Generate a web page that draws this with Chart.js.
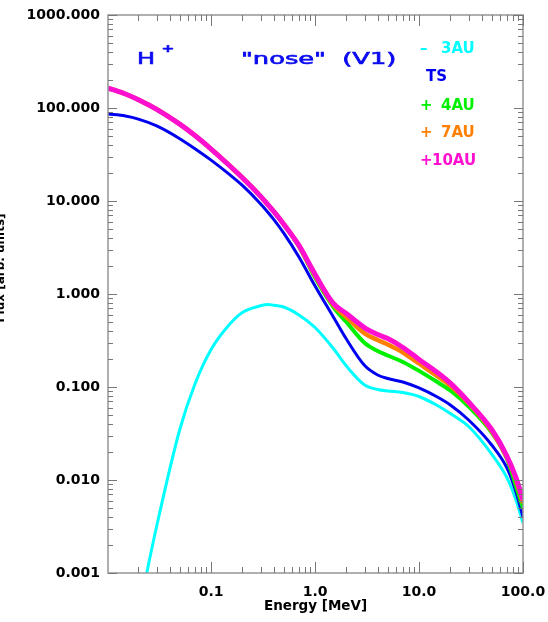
<!DOCTYPE html>
<html>
<head>
<meta charset="utf-8">
<script src="https://cdn.jsdelivr.net/npm/chart.js@4.4.1/dist/chart.umd.min.js"></script>
<style>
  html, body { margin: 0; padding: 0; background: #fff; }
  #wrap { width: 548px; height: 622px; position: relative; }
</style>
</head>
<body>
<div id="wrap"><canvas id="chart"></canvas></div>
<script>
// energies [MeV] shared by all curves
const energy = [0.0102, 0.015, 0.02, 0.03, 0.05, 0.07, 0.1, 0.15, 0.2, 0.3, 0.35, 0.4, 0.5, 0.7,
  1.0, 1.5, 2, 3, 4, 5, 7, 10, 15, 20, 30, 50, 70, 85, 100];

// TS - 3AU (cyan)
const tsMinus3 = [null, null, 0.00037, 0.0032, 0.0349, 0.1077, 0.253, 0.470, 0.633, 0.747, 0.769, 0.758, 0.725, 0.595,
  0.436, 0.259, 0.168, 0.105, 0.094, 0.0906, 0.0873, 0.079, 0.0633, 0.0519, 0.0376, 0.019, 0.0106, 0.00625, 0.00345];
// TS (blue)
const ts = [86.2, 82.0, 76.0, 64.2, 46.8, 36.5, 27.5, 19.3, 14.7, 9.30, 7.62, 6.34, 4.51, 2.50,
  1.22, 0.566, 0.328, 0.170, 0.1346, 0.1234, 0.1132, 0.0976, 0.078, 0.064, 0.0442, 0.0238, 0.0135, 0.00762, 0.0040];
// TS + 4AU (green)
const tsPlus4 = [164, 141.5, 122.8, 96.8, 67.1, 50.6, 36.2, 24.1, 17.8, 11.2, 9.19, 7.73, 5.60, 3.24,
  1.50, 0.725, 0.50, 0.297, 0.244, 0.218, 0.186, 0.149, 0.113, 0.0917, 0.0617, 0.0324, 0.0169, 0.00883, 0.0050];
// TS + 7AU (orange)
const tsPlus7 = [164, 141.5, 122.8, 96.8, 67.1, 50.6, 36.2, 24.1, 17.8, 11.2, 9.19, 7.73, 5.64, 3.30,
  1.58, 0.762, 0.566, 0.376, 0.320, 0.286, 0.235, 0.179, 0.131, 0.1038, 0.0673, 0.0336, 0.0175, 0.0103, 0.00566];
// TS + 10AU (magenta)
const tsPlus10 = [164, 141.5, 122.8, 96.8, 67.1, 50.6, 36.2, 24.1, 17.8, 11.2, 9.19, 7.73, 5.64, 3.33,
  1.63, 0.792, 0.617, 0.433, 0.367, 0.332, 0.266, 0.198, 0.143, 0.110, 0.069, 0.0349, 0.0181, 0.0108, 0.0061];

const legendMarks = ['\u2013', '', '+', '+', '+'];
const legendLabels = ['3AU', 'TS', '4AU', '7AU', '10AU'];
const xTickLabels = ['0.1', '1.0', '10.0', '100.0'];
const yTickLabels = ['0.001', '0.010', '0.100', '1.000', '10.000', '100.000', '1000.000'];

const C_CYAN = '#00ffff', C_BLUE = '#0000f0', C_GREEN = '#00f000', C_ORANGE = '#ff8000', C_MAG = '#ff10d0';
const legendColors = [C_CYAN, C_BLUE, C_GREEN, C_ORANGE, C_MAG];

const isDecade = v => Math.abs(Math.log10(v) - Math.round(Math.log10(v))) < 1e-6;

function mkSet(vals, color, width){
  return {
    data: vals.map((v, i) => ({ x: energy[i], y: v })),
    borderColor: color, borderWidth: width, pointRadius: 0,
    fill: false, cubicInterpolationMode: 'monotone', spanGaps: true, clip: 0
  };
}

// ticks drawn inside the frame, IDL style
const framePlugin = {
  id: 'frame',
  afterDatasetsDraw(chart){
    const ctx = chart.ctx;
    const { left, right, top, bottom } = chart.chartArea;
    const xs = chart.scales.x, ys = chart.scales.y;
    ctx.save();
    ctx.strokeStyle = '#959595';
    ctx.lineWidth = 1.5;
    ctx.strokeRect(left, top, right - left, bottom - top);
    ctx.lineWidth = 1;
    ctx.strokeStyle = '#777';
    ctx.beginPath();
    for(let e = -3; e <= 3; e++){
      for(let m = 1; m <= 9; m++){
        const v = m * Math.pow(10, e);
        if(v < ys.min * 0.999 || v > ys.max * 1.001) continue;
        const y = Math.round(ys.getPixelForValue(v)) + 0.5;
        const len = m === 1 ? 9 : 5;
        ctx.moveTo(left, y); ctx.lineTo(left + len, y);
        ctx.moveTo(right, y); ctx.lineTo(right - len, y);
      }
    }
    for(let e = -2; e <= 2; e++){
      for(let m = 1; m <= 9; m++){
        const v = m * Math.pow(10, e);
        if(v < xs.min || v > xs.max * 1.001) continue;
        const x = Math.round(xs.getPixelForValue(v)) + 0.5;
        const len = m === 1 ? 11 : 6;
        ctx.moveTo(x, bottom); ctx.lineTo(x, bottom - len);
        ctx.moveTo(x, top); ctx.lineTo(x, top + len);
      }
    }
    ctx.stroke();
    ctx.restore();
  }
};

function wideText(ctx, txt, x, y, sx, font){
  ctx.save();
  ctx.translate(x, y);
  ctx.scale(sx, 1);
  ctx.font = font;
  ctx.fillText(txt, 0, 0);
  ctx.strokeText(txt, 0, 0);
  ctx.restore();
}

// titles, legend and the clipped y axis label
const textPlugin = {
  id: 'texts',
  afterDraw(chart){
    const ctx = chart.ctx;
    ctx.save();
    ctx.textBaseline = 'alphabetic';
    ctx.textAlign = 'left';
    ctx.fillStyle = '#0a0af0';
    ctx.strokeStyle = '#0a0af0';
    ctx.lineWidth = 0.6;

    wideText(ctx, 'H', 137, 64, 1.55, '15.5px "DejaVu Sans"');
    ctx.textAlign = 'center';
    wideText(ctx, '+', 168, 52, 1.4, 'bold 11px "DejaVu Sans"');
    ctx.textAlign = 'left';
    wideText(ctx, '"nose"  (V1)', 241, 64, 1.66, '15.5px "DejaVu Sans"');

    const rows = [53, 81, 110, 137, 165];
    ctx.font = 'bold 15px "DejaVu Sans"';
    legendLabels.forEach((lab, i) => {
      ctx.fillStyle = legendColors[i];
      if(legendMarks[i]) ctx.fillText(legendMarks[i], 420, rows[i]);
      let x = 441;
      if(lab === 'TS') x = 426;
      if(lab === '10AU') x = 432;
      ctx.fillText(lab, x, rows[i]);
    });

    ctx.fillStyle = '#000';
    ctx.translate(4, 268);
    ctx.rotate(-Math.PI / 2);
    ctx.textAlign = 'center';
    ctx.font = 'bold 12px "DejaVu Sans"';
    ctx.fillText('Flux [arb. units]', 0, 0);
    ctx.restore();
  }
};

new Chart(document.getElementById('chart'), {
  type: 'line',
  data: {
    datasets: [
      mkSet(tsPlus10, C_MAG, 5),
      mkSet(tsPlus7, C_ORANGE, 4.5),
      mkSet(tsPlus4, C_GREEN, 4),
      mkSet(ts, C_BLUE, 3),
      mkSet(tsMinus3, C_CYAN, 3)
    ]
  },
  options: {
    responsive: true,
    maintainAspectRatio: false,
    devicePixelRatio: 1,
    animation: false,
    layout: { padding: { left: 0, right: 25, top: 15, bottom: 0 } },
    plugins: { legend: { display: false }, tooltip: { enabled: false } },
    scales: {
      x: {
        type: 'logarithmic', min: 0.0102, max: 100,
        grid: { display: false, drawTicks: false }, border: { display: false },
        ticks: {
          autoSkip: false, maxRotation: 0, padding: 11, color: '#000',
          font: { family: 'DejaVu Sans', size: 14, weight: 'bold' },
          callback: v => isDecade(v) ? xTickLabels[Math.round(Math.log10(v)) + 1] : ''
        },
        title: { display: true, text: 'Energy [MeV]', color: '#000',
          font: { family: 'DejaVu Sans', size: 13.5, weight: 'bold' }, padding: { top: 0, bottom: 7 } },
        afterFit: s => { s.height = 49; s.paddingLeft = 0; s.paddingRight = 0; }
      },
      y: {
        type: 'logarithmic', min: 0.001, max: 1000,
        grid: { display: false, drawTicks: false }, border: { display: false },
        ticks: {
          autoSkip: false, padding: 8, color: '#000',
          font: { family: 'DejaVu Sans', size: 14, weight: 'bold' },
          callback: v => isDecade(v) ? yTickLabels[Math.round(Math.log10(v)) + 3] : ''
        },
        afterFit: s => { s.width = 108; s.paddingTop = 0; s.paddingBottom = 0; }
      }
    }
  },
  plugins: [framePlugin, textPlugin]
});
</script>
</body>
</html>
